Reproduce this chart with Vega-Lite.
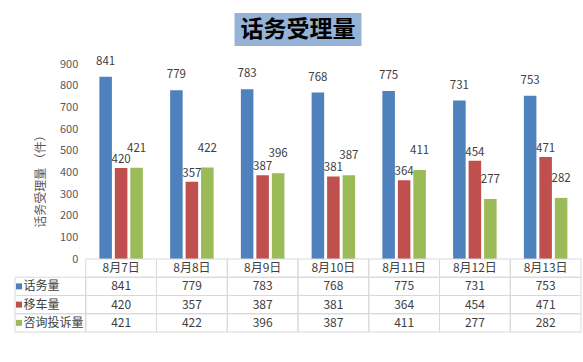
{
  "$schema": "https://vega.github.io/schema/vega-lite/v6.json",
  "padding": {"left": 14, "top": 13, "right": 0, "bottom": 0},
  "autosize": {"type": "pad"},
  "background": "white",
  "config": {"view": {"stroke": null}, "font": "Noto Sans CJK SC"},
  "datasets": {
    "d": [
      {"date": "8月7日", "series": "话务量", "value": 841},
      {"date": "8月8日", "series": "话务量", "value": 779},
      {"date": "8月9日", "series": "话务量", "value": 783},
      {"date": "8月10日", "series": "话务量", "value": 768},
      {"date": "8月11日", "series": "话务量", "value": 775},
      {"date": "8月12日", "series": "话务量", "value": 731},
      {"date": "8月13日", "series": "话务量", "value": 753},
      {"date": "8月7日", "series": "移车量", "value": 420},
      {"date": "8月8日", "series": "移车量", "value": 357},
      {"date": "8月9日", "series": "移车量", "value": 387},
      {"date": "8月10日", "series": "移车量", "value": 381},
      {"date": "8月11日", "series": "移车量", "value": 364},
      {"date": "8月12日", "series": "移车量", "value": 454},
      {"date": "8月13日", "series": "移车量", "value": 471},
      {"date": "8月7日", "series": "咨询投诉量", "value": 421},
      {"date": "8月8日", "series": "咨询投诉量", "value": 422},
      {"date": "8月9日", "series": "咨询投诉量", "value": 396},
      {"date": "8月10日", "series": "咨询投诉量", "value": 387},
      {"date": "8月11日", "series": "咨询投诉量", "value": 411},
      {"date": "8月12日", "series": "咨询投诉量", "value": 277},
      {"date": "8月13日", "series": "咨询投诉量", "value": 282}
    ]
  },
  "spacing": 0,
  "bounds": "flush",
  "center": true,
  "resolve": {"scale": {"x": "independent", "y": "independent", "color": "independent", "xOffset": "independent"}},
  "vconcat": [
    {
      "width": 127,
      "height": 33,
      "view": {"fill": "#95b3d7", "stroke": null},
      "data": {"values": [{"t": "话务受理量"}]},
      "mark": {"type": "text", "fontSize": 23, "color": "#000000", "font": "Noto Sans CJK SC", "fontWeight": "bold"},
      "encoding": {"text": {"field": "t", "type": "nominal"}}
    },
    {
      "width": 566,
      "height": 213,
      "data": {"name": "d"},
      "encoding": {
        "x": {"field": "date", "type": "nominal", "axis": null,
              "scale": {"domain": ["项目", "8月7日", "8月8日", "8月9日", "8月10日", "8月11日", "8月12日", "8月13日"], "paddingInner": 0, "paddingOuter": 0}},
        "xOffset": {"field": "series", "type": "nominal",
                    "scale": {"domain": ["话务量", "移车量", "咨询投诉量"], "paddingInner": 0.19, "paddingOuter": 0.88}},
        "y": {"field": "value", "type": "quantitative",
              "scale": {"domain": [0, 983.1], "nice": false},
              "axis": {"values": [0, 100, 200, 300, 400, 500, 600, 700, 800, 900],
                       "title": "话务受理量 （件）", "offset": -70.75,
                       "domain": false, "ticks": false, "grid": false,
                       "labelFontSize": 11, "labelColor": "#595959", "labelPadding": 8,
                       "titleFontSize": 12, "titleColor": "#595959", "titleFontWeight": "normal",
                       "titlePadding": 12, "titleY": 132}}
      },
      "layer": [
        {
          "mark": {"type": "bar"},
          "encoding": {
            "color": {"field": "series", "type": "nominal", "legend": null,
                      "scale": {"domain": ["话务量", "移车量", "咨询投诉量"], "range": ["#4f81bd", "#c0504d", "#9bbb59"]}}
          }
        },
        {
          "transform": [{"filter": "datum.series === '话务量'"}],
          "mark": {"type": "text", "baseline": "middle", "dy": -15, "fontSize": 11.5, "color": "#404040"},
          "encoding": {"text": {"field": "value", "type": "quantitative"}}
        },
        {
          "transform": [{"filter": "datum.series === '移车量'"}],
          "mark": {"type": "text", "baseline": "middle", "dy": -8, "fontSize": 11.5, "color": "#404040"},
          "encoding": {"text": {"field": "value", "type": "quantitative"}}
        },
        {
          "transform": [{"filter": "datum.series === '咨询投诉量'"}],
          "mark": {"type": "text", "baseline": "middle", "dy": -19, "fontSize": 11.5, "color": "#404040"},
          "encoding": {"text": {"field": "value", "type": "quantitative"}}
        }
      ]
    },
    {
      "width": 566,
      "height": 73,
      "data": {"name": "d"},
      "layer": [
        {
          "mark": {"type": "rect", "fill": "transparent", "stroke": "#d9d9d9", "strokeWidth": 1},
          "encoding": {
            "x": {"field": "date", "type": "nominal", "axis": null,
                  "scale": {"domain": ["项目", "8月7日", "8月8日", "8月9日", "8月10日", "8月11日", "8月12日", "8月13日"], "paddingInner": 0, "paddingOuter": 0}},
            "y": {"field": "series", "type": "nominal", "axis": null,
                  "scale": {"domain": ["hdr", "话务量", "移车量", "咨询投诉量"], "paddingInner": 0, "paddingOuter": 0}}
          }
        },
        {
          "mark": {"type": "text", "fontSize": 12, "color": "#404040"},
          "encoding": {
            "x": {"field": "date", "type": "nominal", "axis": null},
            "y": {"field": "series", "type": "nominal", "axis": null},
            "text": {"field": "value", "type": "quantitative"}
          }
        },
        {
          "transform": [{"filter": "datum.series === '话务量'"}],
          "mark": {"type": "rect", "fill": "transparent", "stroke": "#d9d9d9", "strokeWidth": 1},
          "encoding": {
            "x": {"field": "date", "type": "nominal", "axis": null},
            "y": {"datum": "hdr", "type": "nominal", "axis": null}
          }
        },
        {
          "transform": [{"filter": "datum.series === '话务量'"}],
          "mark": {"type": "text", "fontSize": 12, "color": "#404040"},
          "encoding": {
            "x": {"field": "date", "type": "nominal", "axis": null},
            "y": {"datum": "hdr", "type": "nominal", "axis": null},
            "text": {"field": "date", "type": "nominal"}
          }
        },
        {
          "transform": [{"filter": "datum.date === '8月7日'"}],
          "mark": {"type": "rect", "fill": "transparent", "stroke": "#d9d9d9", "strokeWidth": 1},
          "encoding": {
            "x": {"datum": "项目", "type": "nominal", "axis": null},
            "y": {"field": "series", "type": "nominal", "axis": null}
          }
        },
        {
          "transform": [{"filter": "datum.date === '8月7日'"}],
          "mark": {"type": "square", "size": 36, "opacity": 1, "filled": true, "xOffset": 4},
          "encoding": {
            "x": {"datum": "项目", "type": "nominal", "axis": null, "bandPosition": 0},
            "y": {"field": "series", "type": "nominal", "axis": null},
            "color": {"field": "series", "type": "nominal", "legend": null,
                      "scale": {"domain": ["话务量", "移车量", "咨询投诉量"], "range": ["#4f81bd", "#c0504d", "#9bbb59"]}}
          }
        },
        {
          "transform": [{"filter": "datum.date === '8月7日'"}],
          "mark": {"type": "text", "fontSize": 12, "color": "#404040", "align": "left", "dx": 8.5},
          "encoding": {
            "x": {"datum": "项目", "type": "nominal", "axis": null, "bandPosition": 0},
            "y": {"field": "series", "type": "nominal", "axis": null},
            "text": {"field": "series", "type": "nominal"}
          }
        }
      ]
    }
  ]
}
